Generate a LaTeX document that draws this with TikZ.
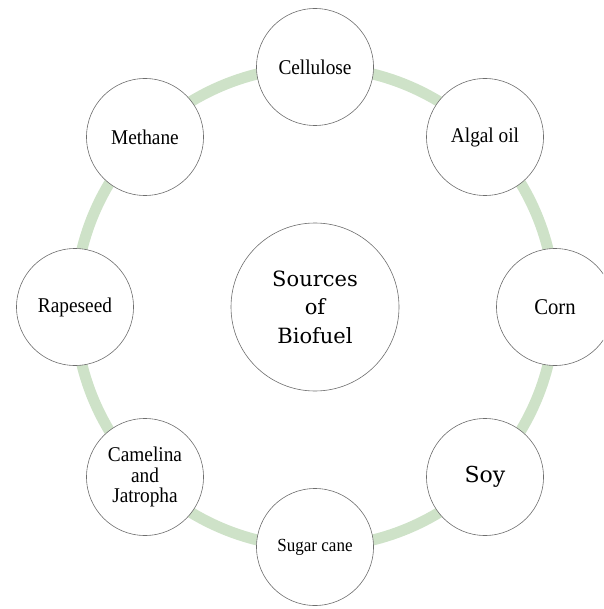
\documentclass[tikz,border=0pt]{standalone}
\usepackage{fontspec}
\setmainfont{Liberation Serif}[FakeStretch=0.92]
\newfontfamily\bigserif{DejaVu Serif}
\definecolor{ringgreen}{RGB}{206,226,200}
\definecolor{circgray}{RGB}{110,110,110}
\begin{document}
\begin{tikzpicture}[x=1pt,y=-1pt,
  src/.style={circle,draw=circgray,line width=0.6pt,fill=white,minimum size=117pt,inner sep=0pt,align=center,font=\fontsize{21}{20.5}\selectfont},
  hub/.style={circle,draw=circgray,line width=0.6pt,fill=white,minimum size=168pt,inner sep=0pt,align=center,font=\bigserif\fontsize{21}{28.5}\selectfont}]
\useasboundingbox (0,0) rectangle (603,609);
\clip (0,0) rectangle (603,609);
\coordinate (c) at (315,307);
\draw[ringgreen,line width=11pt] (c) circle[radius=240];
\node[hub] (hub) at (c) {Sources\\of\\Biofuel};
\node[src] (cel) at (315,67) {Cellulose};
\node[src] (alg) at (485,137) {Algal oil};
\node[src,font=\fontsize{22.5}{22}\selectfont] (corn) at (555,307) {Corn};
\node[src,font=\bigserif\fontsize{22}{24}\selectfont] (soy) at (485,477) {Soy};
\node[src,font=\fontsize{18.5}{18}\selectfont] (sug) at (315,547) {Sugar cane};
\node[src] (cam) at (145,477) {Camelina\\and\\Jatropha};
\node[src] (rap) at (75,307) {Rapeseed};
\node[src] (met) at (145,137) {Methane};
\end{tikzpicture}
\end{document}
